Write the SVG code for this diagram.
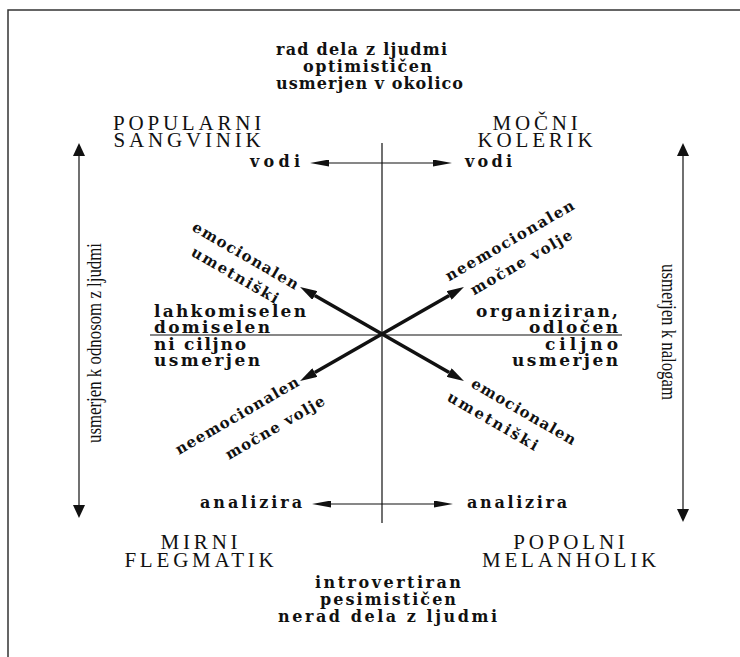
<svg xmlns="http://www.w3.org/2000/svg" width="740" height="657" viewBox="0 0 740 657">
<style>
.b{font-family:"DejaVu Serif","Liberation Serif",serif;font-weight:bold;font-size:16px;fill:#111}
.d{font-family:"DejaVu Serif","Liberation Serif",serif;font-weight:bold;font-size:15px;fill:#111}
.bb{font-family:"DejaVu Serif","Liberation Serif",serif;font-weight:bold;font-size:17px;fill:#111}
.h{font-family:"Liberation Serif","Times New Roman",serif;font-size:21px;letter-spacing:3.8px;fill:#111;text-anchor:middle}
.s{font-family:"Liberation Serif","Times New Roman",serif;font-size:21px;fill:#111;text-anchor:middle}
.thin{stroke:#111;stroke-width:1.2;fill:none}
.thick{stroke:#111;stroke-width:3.5;fill:none}
</style>
<defs>
<marker id="big" markerUnits="userSpaceOnUse" markerWidth="18" markerHeight="10" refX="0" refY="5" orient="auto-start-reverse"><path d="M0,0 L17,5 L0,10 z" fill="#111"/></marker>
<marker id="tri" markerUnits="userSpaceOnUse" markerWidth="14" markerHeight="12" refX="0" refY="6" orient="auto-start-reverse"><path d="M0,0 L13,6 L0,12 z" fill="#111"/></marker>
<marker id="thinhead" markerUnits="userSpaceOnUse" markerWidth="20" markerHeight="7" refX="0" refY="3.5" orient="auto"><path d="M0,0 L19,3.5 L0,7 z" fill="#111"/></marker>
</defs>
<g id="frame"><path d="M8,657 V10 H740" stroke="#333" stroke-width="1.5" fill="none"/></g>
<g id="connectors">
<line class="thin" x1="382" y1="143" x2="382" y2="523"/>
<line class="thin" x1="150" y1="335" x2="622" y2="335"/>
<line class="thin" x1="382" y1="163" x2="329" y2="163" marker-end="url(#thinhead)"/>
<line class="thin" x1="382" y1="163" x2="433" y2="163" marker-end="url(#thinhead)"/>
<line class="thin" x1="382" y1="504" x2="331" y2="504" marker-end="url(#thinhead)"/>
<line class="thin" x1="382" y1="504" x2="434" y2="504" marker-end="url(#thinhead)"/>
<line class="thin" x1="79" y1="156" x2="79" y2="505" marker-start="url(#tri)" marker-end="url(#tri)"/>
<line class="thin" x1="683" y1="156" x2="683" y2="509" marker-start="url(#tri)" marker-end="url(#tri)"/>
<line class="thick" x1="314.8" y1="295.5" x2="449.2" y2="372.5" marker-start="url(#big)" marker-end="url(#big)"/>
<line class="thick" x1="314.8" y1="372.5" x2="449.2" y2="295.5" marker-start="url(#big)" marker-end="url(#big)"/>
</g>
<g id="top">
<text class="b" x="276" y="55" textLength="171" lengthAdjust="spacing">rad dela z ljudmi</text>
<text class="b" x="303" y="72" textLength="129" lengthAdjust="spacing">optimističen</text>
<text class="b" x="276" y="89" textLength="187" lengthAdjust="spacing">usmerjen v okolico</text>
</g>
<g id="sangvinik">
<text class="h" x="189" y="130">POPULARNI</text>
<text class="h" x="189" y="147">SANGVINIK</text>
</g>
<g id="kolerik">
<text class="h" x="537" y="130">MOČNI</text>
<text class="h" x="537" y="147">KOLERIK</text>
</g>
<g id="flegmatik">
<text class="h" x="201" y="549">MIRNI</text>
<text class="h" x="201" y="567">FLEGMATIK</text>
</g>
<g id="melanholik">
<text class="h" x="571" y="549">POPOLNI</text>
<text class="h" x="571" y="567">MELANHOLIK</text>
</g>
<g id="bottom">
<text class="b" x="315" y="588" textLength="146" lengthAdjust="spacing">introvertiran</text>
<text class="b" x="320" y="605" textLength="136" lengthAdjust="spacing">pesimističen</text>
<text class="b" x="278" y="622" textLength="219" lengthAdjust="spacing">nerad dela z ljudmi</text>
</g>
<g id="vodi">
<text class="b" x="250" y="167" textLength="50" lengthAdjust="spacing">vodi</text>
<text class="b" x="465" y="167" textLength="47" lengthAdjust="spacing">vodi</text>
</g>
<g id="analizira">
<text class="b" x="200" y="508" textLength="102" lengthAdjust="spacing">analizira</text>
<text class="b" x="467" y="508" textLength="100" lengthAdjust="spacing">analizira</text>
</g>
<g id="left-block">
<text class="bb" x="154" y="317" textLength="152" lengthAdjust="spacing">lahkomiselen</text>
<text class="bb" x="154" y="333" textLength="116" lengthAdjust="spacing">domiselen</text>
<text class="bb" x="154" y="350" textLength="92" lengthAdjust="spacing">ni ciljno</text>
<text class="bb" x="154" y="366" textLength="106" lengthAdjust="spacing">usmerjen</text>
</g>
<g id="right-block">
<text class="bb" x="476" y="317" textLength="142" lengthAdjust="spacing">organiziran,</text>
<text class="bb" x="529" y="333" textLength="89" lengthAdjust="spacing">odločen</text>
<text class="bb" x="545" y="350" textLength="73" lengthAdjust="spacing">ciljno</text>
<text class="bb" x="512" y="366" textLength="106" lengthAdjust="spacing">usmerjen</text>
</g>
<g id="diag-ul">
<text class="d" transform="translate(191,230) rotate(30)" textLength="120" lengthAdjust="spacing">emocionalen</text>
<text class="d" transform="translate(190,255) rotate(30)" textLength="98" lengthAdjust="spacing">umetniški</text>
</g>
<g id="diag-ur">
<text class="d" transform="translate(449,281.5) rotate(-30)" textLength="146" lengthAdjust="spacing">neemocionalen</text>
<text class="d" transform="translate(474,295.5) rotate(-30)" textLength="115" lengthAdjust="spacing">močne volje</text>
</g>
<g id="diag-ll">
<text class="d" transform="translate(179,455) rotate(-30)" textLength="140" lengthAdjust="spacing">neemocionalen</text>
<text class="d" transform="translate(229,460) rotate(-30)" textLength="112" lengthAdjust="spacing">močne volje</text>
</g>
<g id="diag-lr">
<text class="d" transform="translate(470,386.5) rotate(30)" textLength="118" lengthAdjust="spacing">emocionalen</text>
<text class="d" transform="translate(446,400) rotate(30)" textLength="102" lengthAdjust="spacing">umetniški</text>
</g>
<g id="side-left">
<text class="s" transform="translate(101,343) rotate(-90)" textLength="200" lengthAdjust="spacingAndGlyphs">usmerjen k odnosom z ljudmi</text>
</g>
<g id="side-right">
<text class="s" transform="translate(662,332) rotate(90)" textLength="136" lengthAdjust="spacingAndGlyphs">usmerjen k nalogam</text>
</g>
</svg>
